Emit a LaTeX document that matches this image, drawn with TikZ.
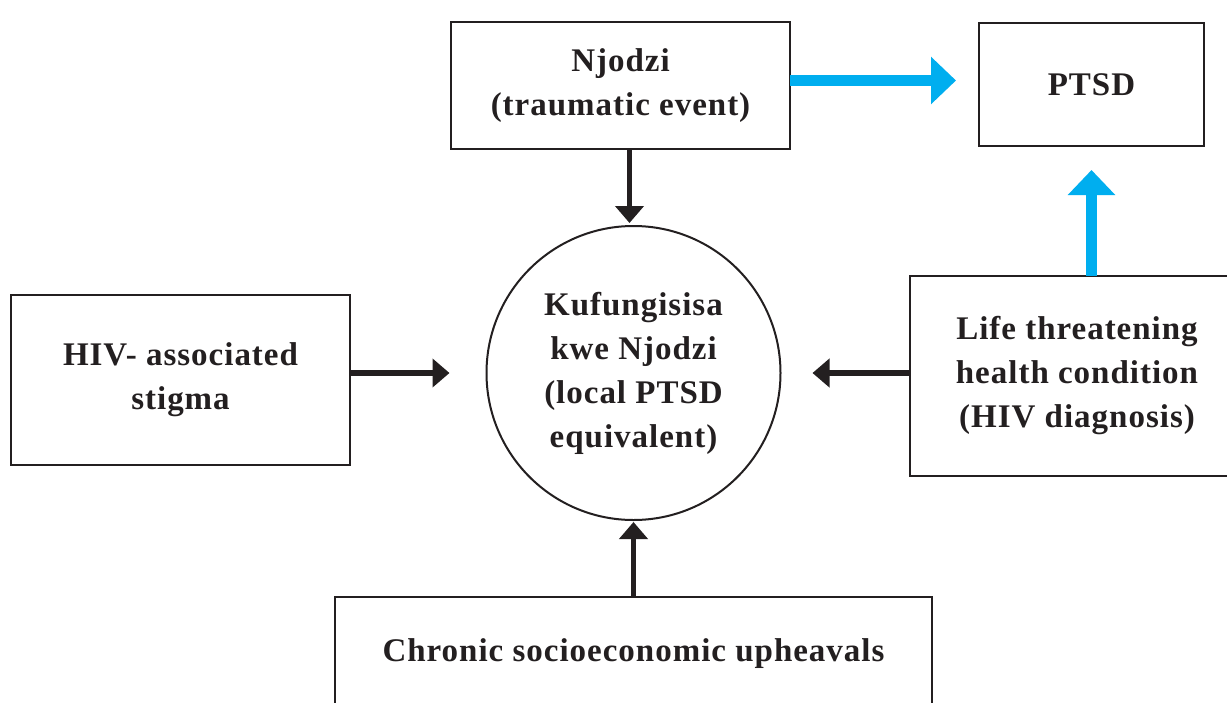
\documentclass[tikz,border=0pt]{standalone}
\usepackage{fontspec}
\setmainfont{Liberation Serif}[LetterSpace=3]
\usetikzlibrary{arrows.meta}
\definecolor{ink}{HTML}{231F20}
\definecolor{cyanarrow}{HTML}{00AEEF}
\begin{document}
\begin{tikzpicture}[x=1pt,y=-1pt,
  every node/.style={font=\fontsize{33}{44}\selectfont\bfseries, text=ink, align=center, inner sep=0pt, outer sep=0pt},
  box/.style={draw=ink, line width=2.5pt, fill=white},
  circbox/.style={draw=ink, line width=2pt, circle, fill=white},
  blackarrow/.style={draw=ink, line width=5.5pt, -{Triangle[width=28pt,length=17pt]}},
  bluearrow/.style={draw=cyanarrow, line width=11pt, -{Triangle[width=46pt,length=25pt]}}]
\useasboundingbox (0,0) rectangle (1227,702);
\clip (0,0) rectangle (1227,702);
\fill[white] (0,0) rectangle (1227,702);
\node[box, minimum width=339pt, minimum height=127pt] (njodzi) at (620.5,85.5) {Njodzi\\(traumatic event)};
\node[box, minimum width=225pt, minimum height=123pt] (ptsd) at (1091.5,84.5) {PTSD};
\node[box, minimum width=339pt, minimum height=170pt] (stigma) at (180.5,380) {HIV- associated\\stigma};
\node[box, minimum width=334pt, minimum height=200pt] (life) at (1077,376) {Life threatening\\health condition\\(HIV diagnosis)};
\node[box, minimum width=597pt, minimum height=114pt] (bottom) at (633.5,654) {Chronic socioeconomic upheavals};
\node[circbox, minimum size=294pt] (circ) at (633.5,373) {Kufungisisa\\kwe Njodzi\\(local PTSD\\equivalent)};
\draw[blackarrow, shorten >=3pt] ([xshift=9pt]njodzi.south) -- ([xshift=9pt]njodzi.south |- circ.north);
\draw[blackarrow, shorten >=37pt] (stigma.east |- circ.center) -- (circ.west);
\draw[blackarrow, shorten >=32pt] (life.west |- circ.center) -- (circ.east);
\draw[blackarrow, shorten >=2pt] (circ.center |- bottom.north) -- (circ.south);
\draw[bluearrow, shorten >=23pt] ([yshift=5pt]njodzi.east) -- ([yshift=5pt]njodzi.east -| ptsd.west);
\draw[bluearrow, shorten >=24pt] (ptsd.south |- life.north) -- (ptsd.south);
\end{tikzpicture}
\end{document}
